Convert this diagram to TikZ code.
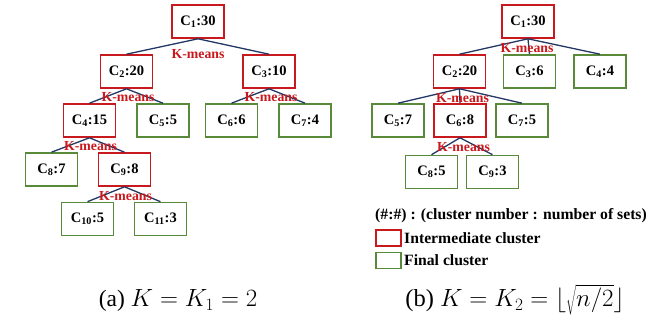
\documentclass[tikz,border=0pt]{standalone}
\usepackage{fontspec}
\setmainfont{Liberation Serif}
\definecolor{interred}{RGB}{200,25,30}
\definecolor{finalgreen}{RGB}{88,138,58}
\definecolor{edgeblue}{RGB}{35,55,100}
\newcommand{\cl}[2]{C\textsubscript{#1}:#2}

\begin{document}
\begin{tikzpicture}[x=1pt, y=-1pt]
	\tikzstyle{every node}=[inner sep=0pt, align=center, font=\fontsize{14.5}{16}\selectfont\bfseries]
	\tikzstyle{inter}=[draw=interred, line width=1.6pt, minimum width=52pt, minimum height=33pt]
	\tikzstyle{final}=[draw=finalgreen, line width=1.6pt, minimum width=52pt, minimum height=33pt]
	\tikzstyle{km}=[text=interred, font=\fontsize{13.8}{14}\selectfont\bfseries]
	\tikzstyle{link}=[draw=edgeblue, line width=1.3pt]
	\useasboundingbox (0,0) rectangle (665,320);
	% (a) K = K_1 = 2
	\node[inter] (a1) at (198, 21.5) {\cl{1}{30}};
	\node[inter] (a2) at (126.5, 71.5) {\cl{2}{20}};
	\node[inter] (a3) at (269, 71.5) {\cl{3}{10}};
	\node[inter] (a4) at (89.5, 120.5) {\cl{4}{15}};
	\node[final] (a5) at (163, 120.5) {\cl{5}{5}};
	\node[final] (a6) at (231.5, 120.5) {\cl{6}{6}};
	\node[final] (a7) at (305, 120.5) {\cl{7}{4}};
	\node[final] (a8) at (51.5, 169.5) {\cl{8}{7}};
	\node[inter] (a9) at (124.5, 169.5) {\cl{9}{8}};
	\node[final] (a10) at (87.5, 219) {\cl{10}{5}};
	\node[final] (a11) at (160.5, 219) {\cl{11}{3}};
	\draw[link] (a1.south) -- (a2.north);
	\draw[link] (a1.south) -- (a3.north);
	\draw[link] (a2.south) -- (a4.north);
	\draw[link] (a2.south) -- (a5.north);
	\draw[link] (a3.south) -- (a6.north);
	\draw[link] (a3.south) -- (a7.north);
	\draw[link] (a4.south) -- (a8.north);
	\draw[link] (a4.south) -- (a9.north);
	\draw[link] (a9.south) -- (a10.north);
	\draw[link] (a9.south) -- (a11.north);
	\node[km] (ka1) at (198, 54) {K-means};
	\node[km] (ka2) at (128, 97.5) {K-means};
	\node[km] (ka3) at (271, 97.5) {K-means};
	\node[km] (ka4) at (90.5, 146) {K-means};
	\node[km] (ka9) at (125.5, 196) {K-means};
	\node[font=\fontsize{23.5}{26}\selectfont] (capa) at (178, 301) {(a) $K = K_1 = 2$};
	% (b) K = K_2
	\node[inter] (b1) at (528, 21.5) {\cl{1}{30}};
	\node[inter] (b2) at (459.5, 71.5) {\cl{2}{20}};
	\node[final] (b3) at (529.5, 71.5) {\cl{3}{6}};
	\node[final] (b4) at (600, 71.5) {\cl{4}{4}};
	\node[final] (b5) at (398, 120.5) {\cl{5}{7}};
	\node[inter] (b6) at (460, 120.5) {\cl{6}{8}};
	\node[final] (b7) at (522, 120.5) {\cl{7}{5}};
	\node[final] (b8) at (431.5, 172) {\cl{8}{5}};
	\node[final] (b9) at (492.5, 172) {\cl{9}{3}};
	\draw[link] (b1.south) -- (b2.north);
	\draw[link] (b1.south) -- (b3.north);
	\draw[link] (b1.south) -- (b4.north);
	\draw[link] (b2.south) -- (b5.north);
	\draw[link] (b2.south) -- (b6.north);
	\draw[link] (b2.south) -- (b7.north);
	\draw[link] (b6.south) -- (b8.north);
	\draw[link] (b6.south) -- (b9.north);
	\node[km] (kb1) at (527, 48) {K-means};
	\node[km] (kb2) at (462.5, 98.5) {K-means};
	\node[km] (kb6) at (463.5, 147) {K-means};
	% legend
	\tikzstyle{legtext}=[anchor=west, font=\fontsize{15.7}{17}\selectfont\bfseries]
	\node[legtext] (lkey) at (375, 215.5) {(\#:\#) : (cluster number : number of sets)};
	\node[draw=interred, line width=1.6pt, minimum width=25pt, minimum height=16pt] (lred) at (388.5, 238) {};
	\node[legtext] (lredt) at (404, 238) {Intermediate cluster};
	\node[draw=finalgreen, line width=1.6pt, minimum width=25pt, minimum height=16pt] (lgreen) at (388.5, 260.5) {};
	\node[legtext] (lgreent) at (404, 260.5) {Final cluster};
	\node[font=\fontsize{24.5}{26}\selectfont] (capb) at (515, 300) {(b) $K = K_2 = \lfloor\sqrt{n/2}\rfloor$};
\end{tikzpicture}
\end{document}
